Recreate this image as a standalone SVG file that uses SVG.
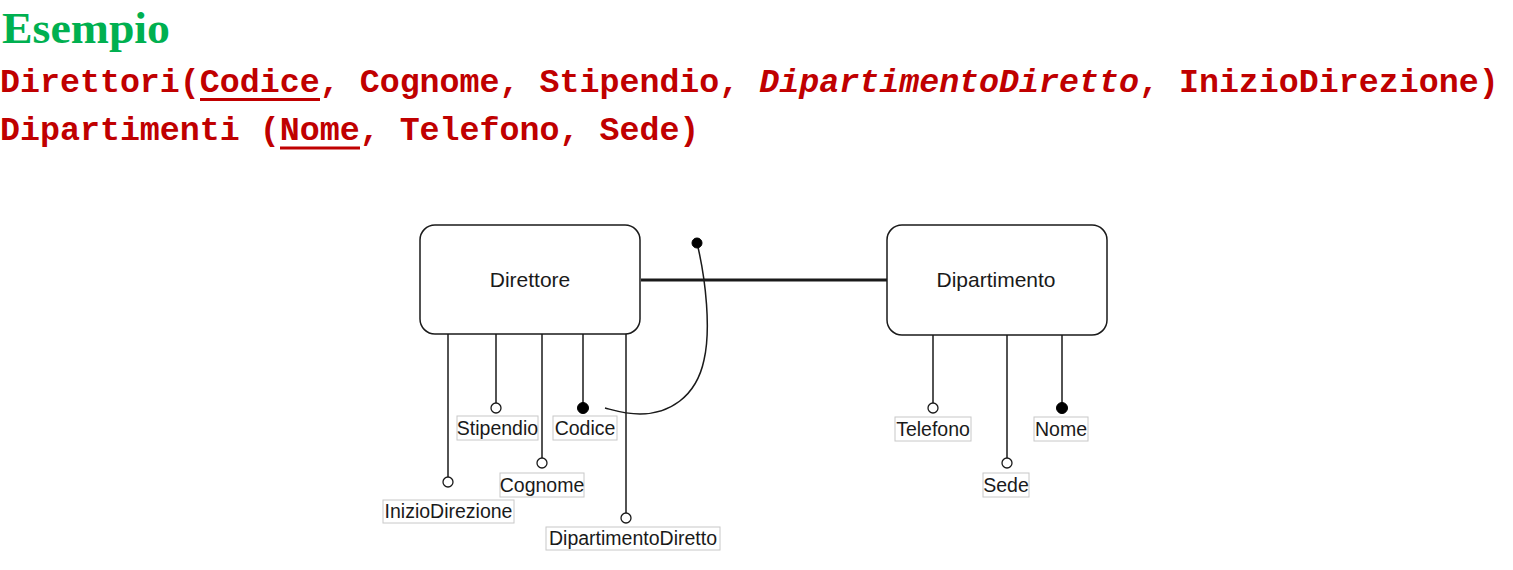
<svg xmlns="http://www.w3.org/2000/svg" width="1513" height="570" viewBox="0 0 1513 570">
<style>
.title{font-family:"Liberation Serif",serif;font-weight:bold;font-size:44px;fill:#00B050}
.rel{font-family:"Liberation Mono",monospace;font-weight:bold;font-size:33.3px;fill:#C00000}
.ent{fill:#fff;stroke:#1a1a1a;stroke-width:1.5}
.entt{font-family:"Liberation Sans",Arial,sans-serif;font-size:21px;fill:#1a1a1a;text-anchor:middle}
.att{stroke:#1a1a1a;stroke-width:1.5;fill:none}
.open{fill:#fff;stroke:#1a1a1a;stroke-width:1.3}
.key{fill:#000;stroke:#000;stroke-width:1}
.lbox{fill:#fff;stroke:#c8c8c8;stroke-width:1}
.lt{font-family:"Liberation Sans",Arial,sans-serif;font-size:19.5px;fill:#1a1a1a;text-anchor:middle}
</style>
<rect width="1513" height="570" fill="#fff"/>
<g id="header">
<text class="title" x="2" y="43" textLength="168" lengthAdjust="spacingAndGlyphs">Esempio</text>
<text class="rel" x="0" y="92">Direttori(Codice, Cognome, Stipendio, <tspan font-style="italic">DipartimentoDiretto</tspan>, InizioDirezione)</text>
<rect x="200" y="98" width="120" height="3" fill="#C00000"/>
<text class="rel" x="0" y="140">Dipartimenti (Nome, Telefono, Sede)</text>
<rect x="280" y="146.5" width="80" height="3" fill="#C00000"/>
</g>
<g id="connectors">
<line x1="641" y1="280" x2="887" y2="280" stroke="#1a1a1a" stroke-width="3"/>
<path class="att" d="M697,243 C706,280 711,330 704,360 C696,398 668,414 640,414 C625,414 613,410 605,408"/>
<circle class="key" cx="697" cy="243" r="5"/>
<line class="att" x1="448" y1="334" x2="448" y2="477"/>
<line class="att" x1="496" y1="334" x2="496" y2="403"/>
<line class="att" x1="542" y1="334" x2="542" y2="458"/>
<line class="att" x1="583" y1="334" x2="583" y2="403"/>
<line class="att" x1="626" y1="334" x2="626" y2="513"/>
<line class="att" x1="933" y1="335" x2="933" y2="403"/>
<line class="att" x1="1007" y1="335" x2="1007" y2="458"/>
<line class="att" x1="1062" y1="335" x2="1062" y2="403"/>
</g>
<g id="direttore">
<rect class="ent" x="420" y="225" width="220" height="109" rx="15"/>
<text class="entt" x="530" y="287">Direttore</text>
</g>
<g id="dipartimento">
<rect class="ent" x="887" y="225" width="220" height="110" rx="15"/>
<text class="entt" x="996" y="287">Dipartimento</text>
</g>
<g id="attr-inizio">
<circle class="open" cx="448" cy="482" r="5"/>
<rect class="lbox" x="383" y="500" width="131" height="23"/>
<text class="lt" x="448.5" y="518">InizioDirezione</text>
</g>
<g id="attr-stipendio">
<circle class="open" cx="496" cy="408" r="5"/>
<rect class="lbox" x="457" y="416" width="81" height="24"/>
<text class="lt" x="497.5" y="435">Stipendio</text>
</g>
<g id="attr-cognome">
<circle class="open" cx="542" cy="463" r="5"/>
<rect class="lbox" x="500" y="473" width="84" height="24"/>
<text class="lt" x="542" y="492">Cognome</text>
</g>
<g id="attr-codice">
<circle class="key" cx="583" cy="408" r="5.5"/>
<rect class="lbox" x="553" y="416" width="64" height="24"/>
<text class="lt" x="585" y="435">Codice</text>
</g>
<g id="attr-dipdiretto">
<circle class="open" cx="626" cy="518" r="5"/>
<rect class="lbox" x="546" y="527" width="174" height="23"/>
<text class="lt" x="633" y="545">DipartimentoDiretto</text>
</g>
<g id="attr-telefono">
<circle class="open" cx="933" cy="408" r="5"/>
<rect class="lbox" x="895" y="417" width="76" height="24"/>
<text class="lt" x="933" y="436">Telefono</text>
</g>
<g id="attr-sede">
<circle class="open" cx="1007" cy="463" r="5"/>
<rect class="lbox" x="983" y="473" width="46" height="24"/>
<text class="lt" x="1006" y="492">Sede</text>
</g>
<g id="attr-nome">
<circle class="key" cx="1062" cy="408" r="5.5"/>
<rect class="lbox" x="1034" y="417" width="54" height="24"/>
<text class="lt" x="1061" y="436">Nome</text>
</g>
</svg>
